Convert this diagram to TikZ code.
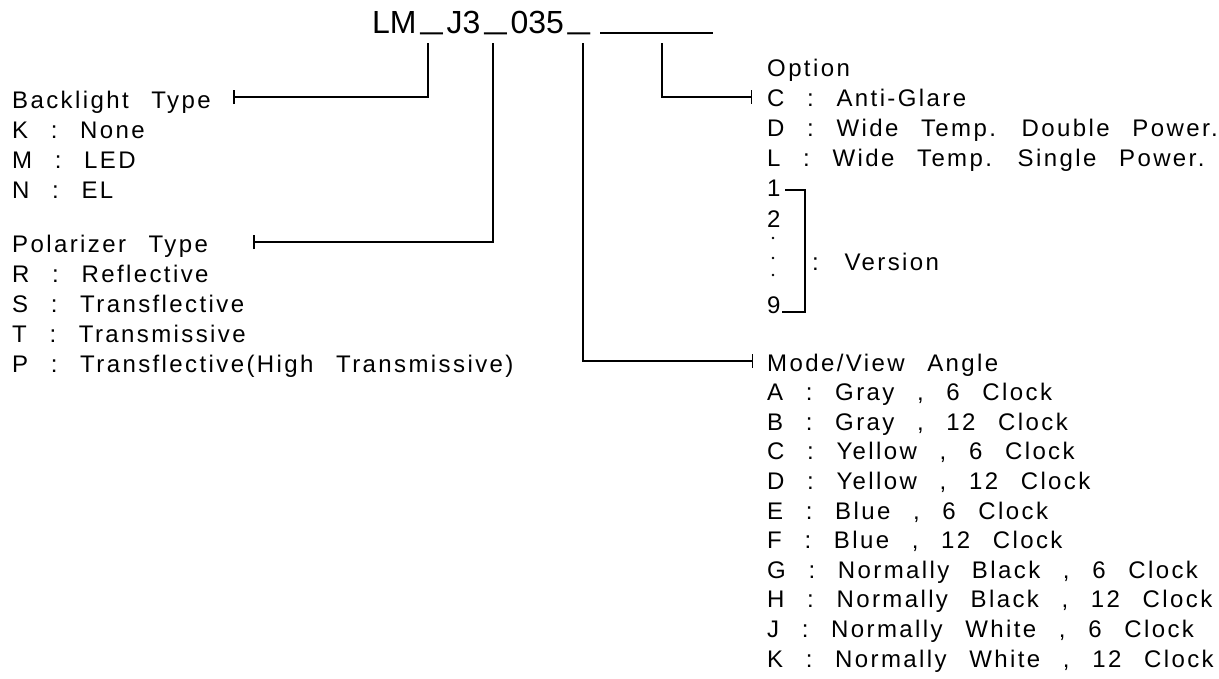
\documentclass[tikz,border=0pt]{standalone}
\usepackage{fontspec}
\usepackage{graphicx}
\setmainfont{Liberation Sans}[LetterSpace=10,WordSpace=2.5]
\newfontfamily\titlefont{Liberation Sans}
\usetikzlibrary{arrows.meta}
\newcommand\usc{\kern4pt\raisebox{4.5pt}{\scalebox{1.24}[1]{\_}}\kern4pt}
\begin{document}
\begin{tikzpicture}[x=1pt,y=-1pt,
  txt/.style={anchor=base west, inner sep=0pt, font=\fontsize{24}{28}\selectfont},
  ttl/.style={anchor=base west, inner sep=0pt, font=\titlefont\fontsize{32}{36}\selectfont},
  conn/.style={line width=1.5pt, -{Bar[width=14pt,line width=1.5pt]}},
  plain/.style={line width=1.5pt},
  vdot/.style={circle, fill, inner sep=0pt, minimum size=2.8pt}]
\useasboundingbox (0,0) rectangle (1219,678);
% title
\node[ttl] (title) at (372,33) {LM\usc J3\usc 035\usc};
\coordinate (ul0) at (600,33);
\coordinate (ul1) at (713,33);
\draw[plain] (ul0) -- (ul1);
% left lists
\foreach \t [count=\i from 0] in {Backlight Type, K : None, M : LED, N : EL}
  \node[txt] (bl\i) at (12,108+30*\i) {\t};
\foreach \t [count=\i from 0] in {Polarizer Type, R : Reflective, S : Transflective, T : Transmissive, P : Transflective(High Transmissive)}
  \node[txt] (po\i) at (12,252+30*\i) {\t};
% option list
\foreach \t [count=\i from 0] in {Option, C : Anti-Glare, D : Wide Temp. Double Power., L : Wide Temp. Single Power., 1, 2}
  \node[txt] (op\i) at (767,76+30.2*\i) {\t};
\node[vdot] (dot1) at (773,238) {};
\node[vdot] (dot2) at (773,258) {};
\node[vdot] (dot3) at (773,275) {};
\node[txt] (op9) at (767,313) {9};
\node[txt] (ver) at (812,270) {: Version};
% mode list
\foreach \t [count=\i from 0] in {Mode/View Angle, {A : Gray , 6 Clock}, {B : Gray , 12 Clock}, {C : Yellow , 6 Clock}, {D : Yellow , 12 Clock}, {E : Blue , 6 Clock}, {F : Blue , 12 Clock}, {G : Normally Black , 6 Clock}, {H : Normally Black , 12 Clock}, {J : Normally White , 6 Clock}, {K : Normally White , 12 Clock}}
  \node[txt] (mo\i) at (767,371+29.6*\i) {\t};
% connectors
\coordinate (s1) at (428,43); \coordinate (e1) at (233,97);
\coordinate (s2) at (493,43); \coordinate (e2) at (253,242);
\coordinate (s3) at (583,43); \coordinate (e3) at (753,361);
\coordinate (s4) at (662,43); \coordinate (e4) at (752,97);
\draw[conn] (s1) |- (e1);
\draw[conn] (s2) |- (e2);
\draw[conn] (s3) |- (e3);
\draw[conn] (s4) |- (e4);
% version bracket
\coordinate (vA) at (785,190);
\coordinate (vB) at (805,190);
\coordinate (vC) at (805,312);
\coordinate (vD) at (782,312);
\draw[plain] (vA) -- (vB) -- (vC) -- (vD);
\end{tikzpicture}
\end{document}
